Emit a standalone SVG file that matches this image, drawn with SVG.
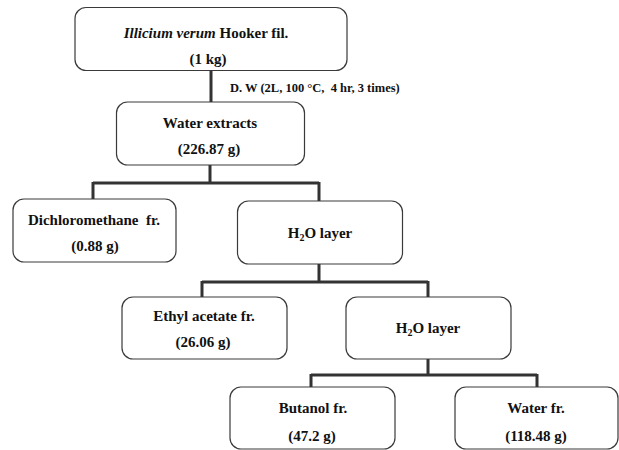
<svg xmlns="http://www.w3.org/2000/svg" width="619" height="450" viewBox="0 0 619 450">
<style>
.box{fill:#fff;stroke:#3a3a3a;stroke-width:1.2}
.t{font-family:"Liberation Serif","DejaVu Serif",serif;font-weight:bold;font-size:15px;fill:#111;text-anchor:middle}
.lbl{font-family:"Liberation Serif","DejaVu Serif",serif;font-weight:bold;font-size:12.5px;fill:#111}
.con{fill:none;stroke:#333;stroke-width:3}
</style>
<rect width="619" height="450" fill="#fff"/>
<g id="connectors">
<path class="con" d="M211 71V102"/>
<path class="con" d="M210 165V183M93 183H319M93 182V199M319 182V201"/>
<path class="con" d="M319 264V282M202 282H428M202 281V297M428 281V297"/>
<path class="con" d="M428 359V375M311 375H537M311 374V387M537 374V387"/>
<text class="lbl" x="230" y="92" xml:space="preserve">D. W (2L, 100 °C,  4 hr, 3 times)</text>
</g>
<g id="n1">
<rect class="box" x="75" y="7.5" width="272" height="63" rx="11"/>
<text class="t" x="206" y="38"><tspan font-style="italic">Illicium verum</tspan> Hooker fil.</text>
<text class="t" x="208" y="64">(1 kg)</text>
</g>
<g id="n2">
<rect class="box" x="116.5" y="102" width="188" height="63" rx="11"/>
<text class="t" x="210" y="128">Water extracts</text>
<text class="t" x="209" y="154">(226.87 g)</text>
</g>
<g id="n3">
<rect class="box" x="13" y="199" width="163" height="63" rx="11"/>
<text class="t" x="94" y="225" xml:space="preserve">Dichloromethane  fr.</text>
<text class="t" x="95" y="251">(0.88 g)</text>
</g>
<g id="n4">
<rect class="box" x="237.5" y="201" width="165" height="63" rx="11"/>
<text class="t" x="320" y="238">H<tspan font-size="10px" dy="3">2</tspan><tspan dy="-3">O layer</tspan></text>
</g>
<g id="n5">
<rect class="box" x="122" y="297" width="165" height="62" rx="11"/>
<text class="t" x="204" y="321">Ethyl acetate fr.</text>
<text class="t" x="203" y="347">(26.06 g)</text>
</g>
<g id="n6">
<rect class="box" x="346" y="297" width="165" height="62" rx="11"/>
<text class="t" x="428" y="333">H<tspan font-size="10px" dy="3">2</tspan><tspan dy="-3">O layer</tspan></text>
</g>
<g id="n7">
<rect class="box" x="230" y="387" width="165" height="62" rx="11"/>
<text class="t" x="313" y="413">Butanol fr.</text>
<text class="t" x="312" y="441">(47.2 g)</text>
</g>
<g id="n8">
<rect class="box" x="455" y="387" width="163" height="62" rx="11"/>
<text class="t" x="536" y="413">Water fr.</text>
<text class="t" x="536" y="441">(118.48 g)</text>
</g>
</svg>
